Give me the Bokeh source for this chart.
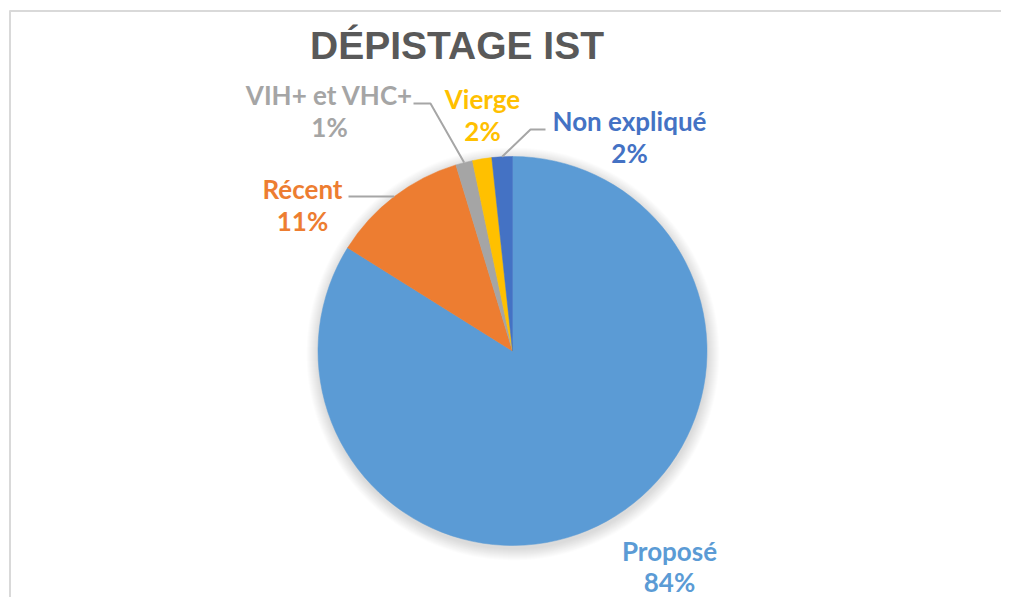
import math
from bokeh.plotting import figure
from bokeh.models import Range1d, ColumnDataSource
from bokeh.core.properties import value
from bokeh.embed import file_html
from bokeh.resources import INLINE

# ---------------- data ----------------
title_text = "DÉPISTAGE IST"
categories = ["Proposé", "Récent", "VIH+ et VHC+", "Vierge", "Non expliqué"]
values = [83.9, 11.4, 1.4, 1.6, 1.7]
colors = ["#5B9BD5", "#ED7D31", "#A5A5A5", "#FFC000", "#4472C4"]

# ---------------- layout (screen px) ----------------
W, H = 1001, 597
CX, CY, R = 512.0, 350.5, 194.5          # pie centre / radius in page px
label_pos = {                              # centre x, middle of first line, line gap
    "Proposé": (669, 550, 31),
    "Récent": (302, 188.5, 32),
    "VIH+ et VHC+": (329, 94, 32),
    "Vierge": (482, 98.5, 32),
    "Non expliqué": (629, 120.5, 32),
}
leader_start = {                           # label-side points of leader lines
    "Récent": [(348, 196)],
    "VIH+ et VHC+": [(413, 103), (430, 103)],
    "Non expliqué": [(545, 129), (530, 129)],
}

def Y(y):  # page y (down) -> data y (up)
    return -y

p = figure(width=W, height=H, output_backend="svg", toolbar_location=None,
           x_range=Range1d(0, W), y_range=Range1d(-H, 0),
           min_border=0)
p.axis.visible = False
p.xgrid.visible = False
p.ygrid.visible = False
p.outline_line_color = None
p.background_fill_color = "white"
p.border_fill_color = "white"

# frame (top and left edges visible in the reference)
p.line([9, W], [Y(10.5), Y(10.5)], line_color="#D9D9D9", line_width=2)
p.line([9.5, 9.5], [Y(10), Y(H)], line_color="#D9D9D9", line_width=2)

# soft shadow
for k in range(1, 13):
    p.circle([CX + 0.5], [Y(CY + 3)], radius=R + k, fill_color="black",
             fill_alpha=0.012, line_color=None)

# wedges
total = sum(values)
starts, ends, mids = [], [], []
cum = 0.0
for v in values:
    a0 = math.pi / 2 - 2 * math.pi * cum / total
    cum += v
    a1 = math.pi / 2 - 2 * math.pi * cum / total
    starts.append(a0)
    ends.append(a1)
    mids.append((a0 + a1) / 2)

src = ColumnDataSource(dict(cat=categories, val=values, color=colors,
                            start=starts, end=ends))
p.wedge(x=CX, y=Y(CY), radius=R, start_angle="start", end_angle="end",
        direction="clock", fill_color="color", line_color="color",
        line_width=0.5, source=src)

# leader lines
for cat, mid in zip(categories, mids):
    if cat in leader_start:
        pts = list(leader_start[cat])
        ex = CX + R * math.cos(mid)
        ey = CY - R * math.sin(mid)
        pts.append((ex, ey))
        p.line([q[0] for q in pts], [Y(q[1]) for q in pts],
               line_color="#A6A6A6", line_width=2)

# labels
for cat, v, col in zip(categories, values, colors):
    x, y, gap = label_pos[cat]
    pct = f"{round(v / total * 100)}%"
    p.text(x=[x, x], y=[Y(y), Y(y + gap)], text=[cat, pct],
           text_color=col, text_align="center", text_baseline="middle",
           text_font=value("Lato"), text_font_style="bold",
           text_font_size=value("26px"))

# title
p.text(x=[456.5], y=[Y(45)], text=[title_text], text_color="#595959",
       text_align="center", text_baseline="middle",
       text_font=value("Liberation Sans"), text_font_style="bold",
       text_font_size=value("39px"))

open("out.html", "w").write(file_html(p, INLINE))
